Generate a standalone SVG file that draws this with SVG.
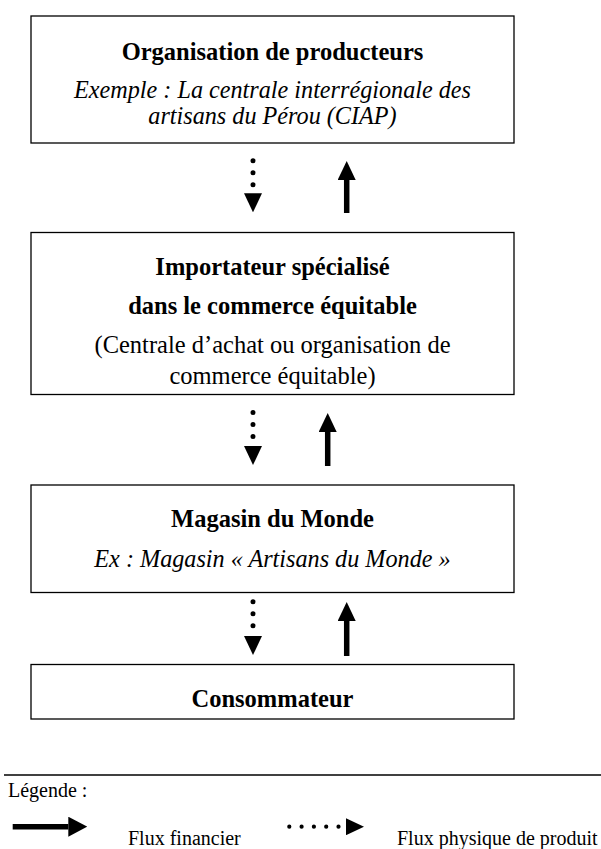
<svg xmlns="http://www.w3.org/2000/svg" width="601" height="849" viewBox="0 0 601 849">
  <style>
    .box { fill: #fff; stroke: #000; stroke-width: 1.3; }
    text { font-family: "Liberation Serif", "Times New Roman", serif; fill: #000; }
    .t { font-size: 24.5px; text-anchor: middle; }
    .b { font-weight: bold; }
    .i { font-style: italic; font-size: 24.2px; }
    .leg { font-size: 20px; }
    .solid { stroke: #000; stroke-width: 5.5; fill: none; }
    .dots { stroke: #000; stroke-width: 5; stroke-linecap: round; stroke-dasharray: 0 12; fill: none; }
    .ldots { stroke: #000; stroke-width: 4.2; stroke-linecap: round; stroke-dasharray: 0 12.3; fill: none; }
  </style>
  <defs>
    <marker id="head" markerUnits="userSpaceOnUse" markerWidth="19" markerHeight="18" refX="0" refY="9" orient="auto">
      <path d="M0,0 L19,9 L0,18 Z" fill="#000"/>
    </marker>
    <marker id="headL" markerUnits="userSpaceOnUse" markerWidth="19" markerHeight="20" refX="0" refY="10" orient="auto">
      <path d="M0,0 L19,10 L0,20 Z" fill="#000"/>
    </marker>
    <marker id="headD" markerUnits="userSpaceOnUse" markerWidth="18" markerHeight="17" refX="0" refY="8.5" orient="auto">
      <path d="M0,0 L18,8.5 L0,17 Z" fill="#000"/>
    </marker>
  </defs>

  <g id="producteurs">
    <rect class="box" x="31" y="16" width="483" height="127"/>
    <text class="t b" x="272.5" y="60">Organisation de producteurs</text>
    <text class="t i" x="272.5" y="98">Exemple : La centrale interrégionale des</text>
    <text class="t i" x="272.5" y="123.5">artisans du Pérou (CIAP)</text>
  </g>

  <g id="importateur">
    <rect class="box" x="31" y="232.5" width="483" height="162"/>
    <text class="t b" x="272.5" y="275">Importateur spécialisé</text>
    <text class="t b" x="272.5" y="313.5">dans le commerce équitable</text>
    <text class="t" x="272.5" y="353">(Centrale d’achat ou organisation de</text>
    <text class="t" x="272.5" y="383.5">commerce équitable)</text>
  </g>

  <g id="magasin">
    <rect class="box" x="31" y="485" width="483" height="107.5"/>
    <text class="t b" x="272.5" y="527">Magasin du Monde</text>
    <text class="t i" x="272.5" y="566.5">Ex : Magasin « Artisans du Monde »</text>
  </g>

  <g id="consommateur">
    <rect class="box" x="31" y="664.5" width="483" height="54.5"/>
    <text class="t b" x="272.5" y="707">Consommateur</text>
  </g>

  <g id="connectors">
    <path class="dots" d="M253,160.7 V193.3" marker-end="url(#head)"/>
    <path class="solid" d="M346.7,213 V180" marker-end="url(#head)"/>
    <path class="dots" d="M253,412.5 V446" marker-end="url(#head)"/>
    <path class="solid" d="M327.7,466 V432" marker-end="url(#head)"/>
    <path class="dots" d="M253,601.7 V636" marker-end="url(#head)"/>
    <path class="solid" d="M346.7,656 V621" marker-end="url(#head)"/>
  </g>

  <g id="legende">
    <line x1="4" y1="775" x2="601" y2="775" stroke="#000" stroke-width="1.3"/>
    <text class="leg" x="8" y="797">Légende :</text>
    <path class="solid" d="M12.7,826.7 H68.3" stroke-width="6" marker-end="url(#headL)"/>
    <text class="leg" x="128" y="845">Flux financier</text>
    <path class="ldots" d="M289.3,826.7 H346" marker-end="url(#headD)"/>
    <text class="leg" x="397" y="845">Flux physique de produit</text>
  </g>
</svg>
